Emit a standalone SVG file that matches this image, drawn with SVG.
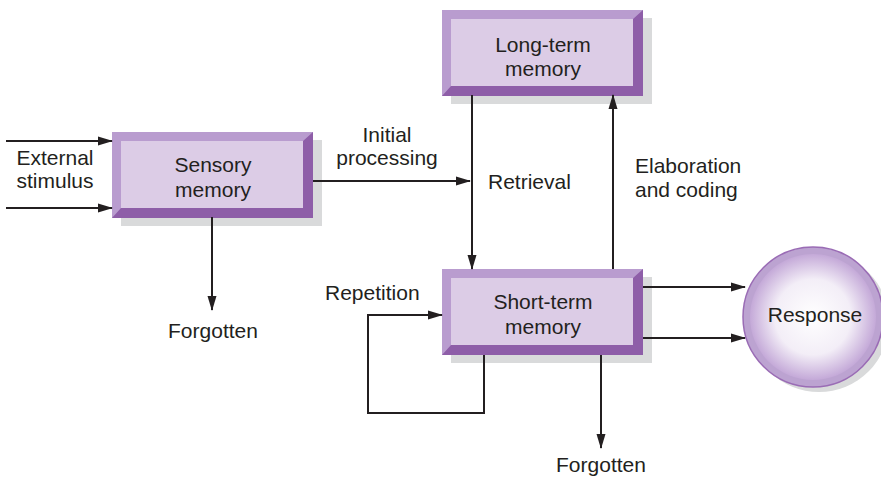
<svg xmlns="http://www.w3.org/2000/svg" xmlns:xlink="http://www.w3.org/1999/xlink" width="881" height="478" viewBox="0 0 881 478">
  <style>
    .lbl { font-family: "Liberation Sans", Arial, sans-serif; font-size: 21px; fill: #231f20; }
    .mid { text-anchor: middle; }
    .wire { fill: none; stroke: #231f20; stroke-width: 2; }
    .shadow { fill: #d9dadb; }
    .edge-dark { fill: #8e5ea8; }
    .edge-light { fill: #b99ccf; }
    .face { fill: #dccce6; }
  </style>
  <defs>
    <marker id="arrow" markerUnits="userSpaceOnUse" markerWidth="15" markerHeight="10" refX="14" refY="5" orient="auto">
      <path d="M0,0.5 L15,5 L0,9.5 Z" fill="#231f20"/>
    </marker>
    <!-- bevelled box, 201 x 86 -->
    <symbol id="bevelBox" overflow="visible">
      <rect class="shadow" x="9" y="8" width="201" height="86"/>
      <rect class="edge-dark" x="0" y="0" width="201" height="86"/>
      <polygon class="edge-light" points="0,0 201,0 191,9 9,9 9,76 0,86"/>
      <rect class="face" x="9" y="9" width="182" height="67"/>
    </symbol>
    <radialGradient id="orb" cx="0.5" cy="0.5" r="0.5">
      <stop offset="0" stop-color="#ffffff"/>
      <stop offset="0.6" stop-color="#f3eef7"/>
      <stop offset="1" stop-color="#c4a9d8"/>
    </radialGradient>
  </defs>

  <g id="sensory-memory">
    <use xlink:href="#bevelBox" x="112" y="132"/>
    <text class="lbl mid" x="213" y="172">Sensory</text>
    <text class="lbl mid" x="213" y="197">memory</text>
  </g>

  <g id="long-term-memory">
    <use xlink:href="#bevelBox" x="442" y="10"/>
    <text class="lbl mid" x="543" y="52">Long-term</text>
    <text class="lbl mid" x="543" y="76">memory</text>
  </g>

  <g id="short-term-memory">
    <use xlink:href="#bevelBox" x="442" y="269"/>
    <text class="lbl mid" x="543" y="309">Short-term</text>
    <text class="lbl mid" x="543" y="334">memory</text>
  </g>

  <g id="response">
    <circle class="shadow" cx="819" cy="322" r="70"/>
    <circle cx="813" cy="317" r="70" fill="#bca3d1" stroke="#9a6cb5" stroke-width="1.5"/>
    <circle cx="813" cy="317" r="63" fill="url(#orb)"/>
    <text class="lbl mid" x="815" y="322">Response</text>
  </g>

  <g id="connectors">
    <path class="wire" d="M6,141 H112" marker-end="url(#arrow)"/>
    <path class="wire" d="M6,208 H112" marker-end="url(#arrow)"/>
    <path class="wire" d="M313,181 H470" marker-end="url(#arrow)"/>
    <path class="wire" d="M472,95 V269" marker-end="url(#arrow)"/>
    <path class="wire" d="M613,269 V95" marker-end="url(#arrow)"/>
    <path class="wire" d="M212,217 V310" marker-end="url(#arrow)"/>
    <path class="wire" d="M601,355 V448" marker-end="url(#arrow)"/>
    <path class="wire" d="M643,287 H745" marker-end="url(#arrow)"/>
    <path class="wire" d="M643,338 H745" marker-end="url(#arrow)"/>
    <path class="wire" d="M484,355 V413 H368 V315 H442" marker-end="url(#arrow)"/>
  </g>

  <g id="labels">
    <text class="lbl mid" x="55" y="165">External</text>
    <text class="lbl mid" x="55" y="188">stimulus</text>
    <text class="lbl mid" x="387" y="142">Initial</text>
    <text class="lbl mid" x="387" y="165">processing</text>
    <text class="lbl" x="488" y="189">Retrieval</text>
    <text class="lbl" x="635" y="173">Elaboration</text>
    <text class="lbl" x="635" y="197">and coding</text>
    <text class="lbl mid" x="213" y="338">Forgotten</text>
    <text class="lbl" x="325" y="300">Repetition</text>
    <text class="lbl mid" x="601" y="472">Forgotten</text>
  </g>
</svg>
